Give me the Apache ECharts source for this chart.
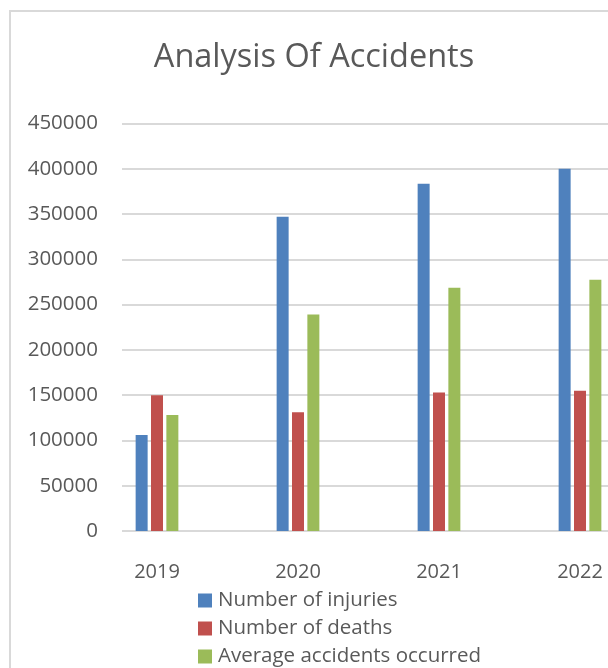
<!DOCTYPE html>
<html>
<head>
<meta charset="utf-8">
<script src="https://cdn.jsdelivr.net/npm/echarts@6/dist/echarts.min.js"></script>
<style>
  html, body { margin: 0; padding: 0; background: #fff; }
  #main { width: 608px; height: 668px; }
</style>
</head>
<body>
<div id="main"></div>
<script>
// 数据
var years = ['2019', '2020', '2021', '2022'];
var injuries = [106000, 347000, 383500, 400000];
var deaths = [150000, 131000, 153000, 155000];
var avgAccidents = [128000, 239000, 268500, 277500];
var yTicks = [0, 50000, 100000, 150000, 200000, 250000, 300000, 350000, 400000, 450000];

var textColor = '#595959';
var fontName = 'Open Sans';

var chart = echarts.init(document.getElementById('main'));

function barSeries(name, data, color) {
  return {
    name: name,
    type: 'bar',
    xAxisIndex: 1,
    yAxisIndex: 1,
    data: data,
    barWidth: 12,
    barGap: '28%',
    itemStyle: { color: color },
    emphasis: { disabled: true }
  };
}

var option = {
  animation: false,
  textStyle: { fontFamily: fontName },
  title: {
    text: 'Analysis Of Accidents',
    left: 309,
    textAlign: 'center',
    top: 36,
    textStyle: { fontFamily: fontName, fontSize: 32.5, fontWeight: 'normal', color: textColor }
  },
  // 外框
  graphic: [{
    type: 'rect',
    shape: { x: 10, y: 11, width: 700, height: 700 },
    style: { fill: 'none', stroke: '#d9d9d9', lineWidth: 2 },
    silent: true
  }],
  legend: {
    orient: 'vertical',
    left: 198,
    top: 590,
    padding: 0,
    itemWidth: 14,
    itemHeight: 14,
    itemGap: 7,
    icon: 'rect',
    textStyle: { fontFamily: fontName, fontSize: 20.5, color: textColor, padding: [0, 0, 0, 1] },
    data: ['Number of injuries', 'Number of deaths', 'Average accidents occurred']
  },
  grid: [
    { left: 122, right: 0, top: 123.5, bottom: 137, outerBoundsMode: 'none' },
    { left: 86.5, width: 564, top: 123.5, bottom: 137, outerBoundsMode: 'none' }
  ],
  xAxis: [
    { type: 'category', gridIndex: 0, data: years, show: false },
    {
      type: 'category',
      gridIndex: 1,
      data: years,
      axisLine: { show: false },
      axisTick: { show: false },
      axisLabel: { color: textColor, fontSize: 20, fontFamily: fontName, margin: 31 }
    }
  ],
  yAxis: [
    {
      type: 'value',
      gridIndex: 0,
      min: yTicks[0],
      max: yTicks[yTicks.length - 1],
      interval: yTicks[1] - yTicks[0],
      axisLine: { show: false },
      axisTick: { show: false },
      axisLabel: {
        color: textColor, fontSize: 20.5, fontFamily: fontName, margin: 24,
        formatter: function (v) { return String(v); }
      },
      splitLine: { lineStyle: { color: '#d9d9d9', width: 2 } }
    },
    {
      type: 'value',
      gridIndex: 1,
      min: yTicks[0],
      max: yTicks[yTicks.length - 1],
      interval: yTicks[1] - yTicks[0],
      show: false,
      splitLine: { show: false }
    }
  ],
  series: [
    barSeries('Number of injuries', injuries, '#4f81bd'),
    barSeries('Number of deaths', deaths, '#c0504d'),
    barSeries('Average accidents occurred', avgAccidents, '#9bbb59')
  ]
};

chart.setOption(option);
</script>
</body>
</html>
